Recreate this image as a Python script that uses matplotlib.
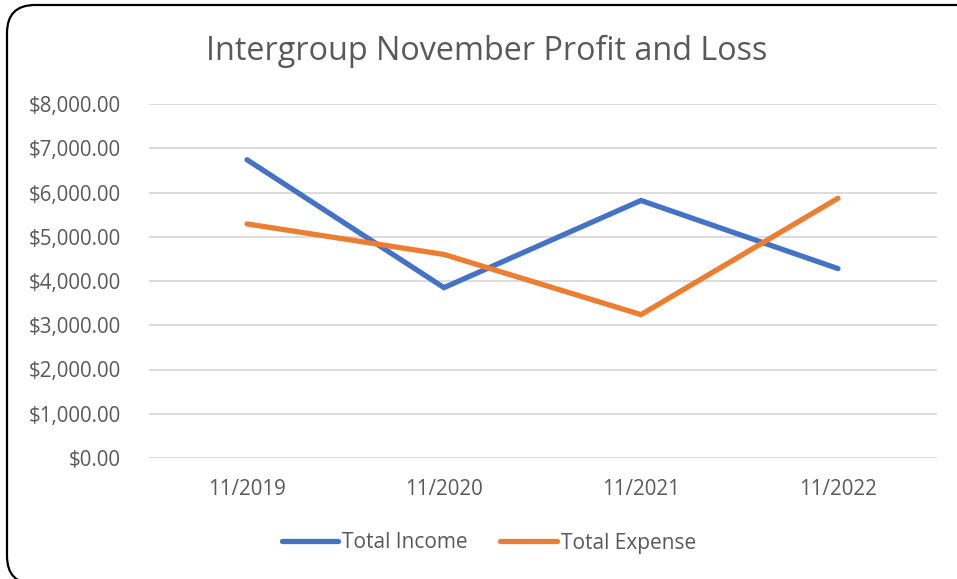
import matplotlib.pyplot as plt
from matplotlib.patches import FancyBboxPatch
from matplotlib.ticker import FuncFormatter

months = ['11/2019', '11/2020', '11/2021', '11/2022']
total_income = [6740, 3850, 5820, 4280]
total_expense = [5290, 4600, 3240, 5870]

plt.rcParams['font.family'] = ['Open Sans', 'DejaVu Sans']

fig = plt.figure(figsize=(9.57, 5.79), dpi=100)
ax = fig.add_axes([148.5 / 957, 1 - 458 / 579, 788 / 957, 354 / 579])

x = range(len(months))
ax.plot(x, total_income, color='#4472C4', lw=3.8, solid_capstyle='round',
        solid_joinstyle='miter', label='Total Income')
ax.plot(x, total_expense, color='#ED7D31', lw=3.8, solid_capstyle='round',
        solid_joinstyle='miter', label='Total Expense')

ax.set_xlim(-0.5, len(months) - 0.5)
ax.set_ylim(0, 8000)
ax.set_yticks(range(0, 8001, 1000))
ax.yaxis.set_major_formatter(FuncFormatter(lambda v, p: f'${v:,.2f}'))
ax.set_xticks(list(x))
ax.set_xticklabels(months)
ax.grid(axis='y', color='#D9D9D9', lw=1.3)
ax.set_axisbelow(True)
for s in ax.spines.values():
    s.set_visible(False)
ax.tick_params(length=0, labelsize=14.8, colors='#595959')
ax.tick_params(axis='y', pad=20)
ax.tick_params(axis='x', pad=15)

fig.text(487 / 957, 1 - 51 / 579, 'Intergroup November Profit and Loss',
         ha='center', va='center', fontsize=23.3, color='#595959')

leg = fig.legend(loc='center', bbox_to_anchor=(489 / 957, 1 - 543 / 579),
                 ncol=2, frameon=False, fontsize=15, handlelength=2.7,
                 handletextpad=0.2, columnspacing=1.55)
for t in leg.get_texts():
    t.set_color('#595959')

# rounded chart border (cut off at right/bottom like the original)
border = FancyBboxPatch((0.07, -0.05), 9.8, 5.79,
                        boxstyle='round,pad=0,rounding_size=0.28',
                        transform=fig.dpi_scale_trans, fill=False,
                        edgecolor='black', lw=1.6)
fig.patches.append(border)

fig.savefig('out.png', dpi=100)
